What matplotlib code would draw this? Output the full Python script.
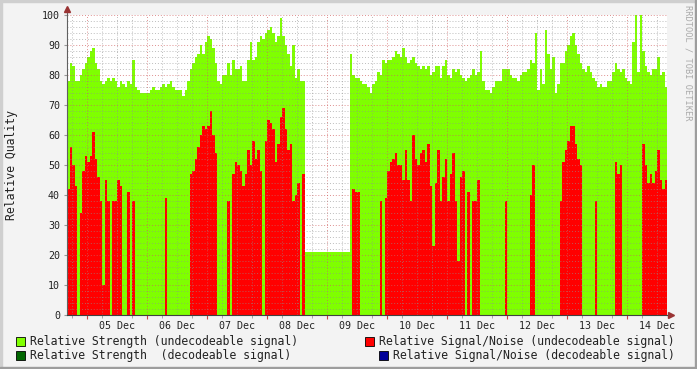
import numpy as np
import matplotlib.pyplot as plt
from matplotlib.patches import Rectangle

# hourly samples, first sample starts 04 Dec 20:00 (hour -8 relative to 05 Dec 00:00)
strength_undec = [
    78, 84, 83, 78, 78, 80, 82, 84, 86, 88, 89, 84, 82, 78, 77, 78, 79, 78, 79, 78,
    76, 78, 77, 76, 78, 77, 85, 76, 75, 74, 74, 74, 74, 75, 76, 75, 75, 76, 77, 76,
    77, 78, 76, 75, 75, 75, 73, 75, 78, 82, 84, 86, 87, 90, 87, 91, 93, 92, 89, 84,
    78, 77, 80, 80, 84, 80, 85, 82, 82, 83, 78, 78, 85, 91, 85, 86, 91, 93, 92, 94,
    95, 96, 94, 91, 93, 99, 93, 90, 87, 83, 90, 79, 82, 78, 78, 21, 21, 21, 21, 21,
    21, 21, 21, 21, 21, 21, 21, 21, 21, 21, 21, 21, 21, 87, 80, 79, 79, 78, 77, 77,
    76, 74, 77, 78, 81, 80, 85, 84, 85, 85, 86, 88, 87, 86, 89, 86, 84, 85, 86, 84,
    83, 82, 83, 82, 83, 80, 81, 83, 83, 79, 83, 85, 80, 79, 82, 81, 82, 80, 79, 78,
    79, 80, 82, 80, 81, 88, 78, 75, 75, 74, 76, 78, 78, 78, 82, 82, 82, 80, 79, 79,
    78, 80, 81, 81, 82, 85, 84, 94, 75, 82, 77, 95, 87, 82, 86, 74, 77, 84, 84, 88,
    90, 93, 94, 90, 87, 84, 82, 81, 83, 81, 79, 78, 76, 77, 76, 76, 78, 78, 81, 84,
    82, 81, 82, 79, 78, 77, 91, 100, 81, 100, 88, 83, 81, 80, 82, 82, 86, 80, 81, 76,
]
snr_undec = [
    42, 56, 50, 43, 0, 34, 48, 53, 51, 53, 61, 52, 46, 38, 10, 45, 38, 0, 38, 38,
    45, 43, 0, 0, 41, 0, 38, 0, 0, 0, 0, 0, 0, 0, 0, 0, 0, 0, 0, 39,
    0, 0, 0, 0, 0, 0, 0, 0, 0, 47, 48, 52, 56, 60, 63, 62, 63, 68, 60, 54,
    0, 0, 0, 0, 38, 0, 47, 51, 50, 48, 43, 47, 55, 50, 58, 52, 55, 48, 0, 58,
    65, 64, 62, 51, 57, 66, 69, 62, 55, 57, 38, 40, 44, 0, 47, 0, 0, 0, 0, 0,
    0, 0, 0, 0, 0, 0, 0, 0, 0, 0, 0, 0, 0, 0, 42, 41, 41, 0, 0, 0,
    0, 0, 0, 0, 0, 38, 0, 39, 48, 51, 52, 54, 50, 50, 45, 55, 45, 38, 60, 52,
    50, 54, 55, 51, 57, 43, 23, 44, 55, 38, 46, 52, 38, 47, 54, 38, 18, 46, 48, 0,
    41, 0, 38, 38, 45, 0, 0, 0, 0, 0, 0, 0, 0, 0, 0, 38, 0, 0, 0, 0,
    0, 0, 0, 0, 0, 40, 50, 0, 0, 0, 0, 0, 0, 0, 0, 0, 0, 38, 51, 55,
    58, 63, 63, 57, 52, 50, 0, 0, 0, 0, 0, 38, 0, 0, 0, 0, 0, 0, 0, 51,
    47, 50, 0, 0, 0, 0, 0, 0, 0, 0, 57, 50, 44, 47, 44, 48, 55, 45, 42, 45,
]
day_labels = ["05 Dec", "06 Dec", "07 Dec", "08 Dec", "09 Dec",
              "10 Dec", "11 Dec", "12 Dec", "13 Dec", "14 Dec"]
legend_labels = ["Relative Strength (undecodeable signal)",
                 "Relative Signal/Noise (undecodeable signal)",
                 "Relative Strength  (decodeable signal)",
                 "Relative Signal/Noise (decodeable signal)"]
legend_colors = ["#7FFF00", "#FF0000", "#006600", "#000099"]

W, H = 697, 369
mono = "DejaVu Sans Mono"

fig = plt.figure(figsize=(W / 100, H / 100), dpi=100, facecolor="#F3F3F3")
ax = fig.add_axes([67 / W, 1 - 315 / H, 600 / W, 300 / H])
ax.set_facecolor("white")

edges = np.arange(-8, -8 + len(strength_undec) + 1)
g = np.append(strength_undec, strength_undec[-1])
r = np.append(snr_undec, snr_undec[-1])
ax.fill_between(edges, 0, g, step="post", color="#7FFF00", linewidth=0, zorder=1)
ax.fill_between(edges, 0, r, step="post", color="#FF0000", linewidth=0, zorder=2)

ax.set_xlim(-8, 232)
ax.set_ylim(0, 100)

# grid (drawn over the data, rrdtool style)
for x in np.arange(-6, 232, 6):
    if x % 24 == 0:
        ax.axvline(x, color="#D06060", alpha=0.7, lw=0.7, ls=(0, (1, 2)), zorder=3)
    else:
        ax.axvline(x, color="#909090", alpha=0.6, lw=0.7, ls=(0, (1, 2)), zorder=3)
for y in np.arange(2, 101, 2):
    if y % 10 == 0:
        ax.axhline(y, color="#D06060", alpha=0.7, lw=0.7, ls=(0, (1, 2)), zorder=3)
    else:
        ax.axhline(y, color="#909090", alpha=0.6, lw=0.7, ls=(0, (1, 2)), zorder=3)

ax.set_xticks(np.arange(12, 240, 24))
ax.set_xticklabels(day_labels, fontfamily=mono, fontsize=7.2, color="#222222")
ax.tick_params(axis="x", length=0, pad=4)
ax.set_xticks(np.arange(-6, 232, 6), minor=True)
ax.tick_params(axis="x", which="minor", length=2, color="#999999")
ax.vlines(np.arange(0, 232, 24), -1.2, 0, color="#CC4444", lw=0.8, clip_on=False, zorder=4)

ax.set_yticks(np.arange(0, 101, 10))
ax.set_yticklabels([str(v) for v in range(0, 101, 10)], fontfamily=mono, fontsize=7.2, color="#222222")
ax.tick_params(axis="y", length=2, pad=3, color="#999999")

for s in ["top", "right"]:
    ax.spines[s].set_visible(False)
ax.spines["left"].set_color("#606060")
ax.spines["bottom"].set_color("#404040")
ax.spines["left"].set_zorder(5)
ax.spines["bottom"].set_zorder(5)

# axis arrows
ax.plot([0, 0], [1, 1.02], color="#606060", lw=0.8, transform=ax.transAxes, clip_on=False)
ax.plot([0], [1.02], marker="^", ms=4, color="#993333", transform=ax.transAxes, clip_on=False)
ax.plot([1, 1.006], [0, 0], color="#404040", lw=0.8, transform=ax.transAxes, clip_on=False)
ax.plot([1.006], [0], marker=">", ms=4, color="#993333", transform=ax.transAxes, clip_on=False)

fig.text(12 / W, 1 - 165 / H, "Relative Quality", rotation=90, ha="center", va="center",
         fontfamily=mono, fontsize=8.3, color="#222222")
fig.text(688 / W, 1 - 5 / H, "RRDTOOL / TOBI OETIKER", rotation=270, ha="center", va="top",
         fontfamily=mono, fontsize=6.2, color="#AAAAAA")

# legend
legend_pos = [(16, 341), (365, 341), (16, 355), (379, 355)]
for (lx, ly), lab, col in zip(legend_pos, legend_labels, legend_colors):
    fig.add_artist(Rectangle((lx / W, 1 - (ly + 4.5) / H), 9 / W, 9 / H,
                             facecolor=col, edgecolor="#000000", lw=0.6,
                             transform=fig.transFigure))
    fig.text((lx + 14) / W, 1 - ly / H, lab, ha="left", va="center",
             fontfamily=mono, fontsize=8.3, color="#222222")

# outer frame shading
fig.add_artist(Rectangle((0, 1 - 2 / H), 1, 2 / H, color="#CFCFCF", transform=fig.transFigure))
fig.add_artist(Rectangle((0, 0), 2 / W, 1, color="#CFCFCF", transform=fig.transFigure))
fig.add_artist(Rectangle((0, 0), 1, 2 / H, color="#9D9D9D", transform=fig.transFigure))
fig.add_artist(Rectangle((1 - 2 / W, 0), 2 / W, 1, color="#9D9D9D", transform=fig.transFigure))

fig.savefig("out.png", dpi=100, facecolor=fig.get_facecolor())
